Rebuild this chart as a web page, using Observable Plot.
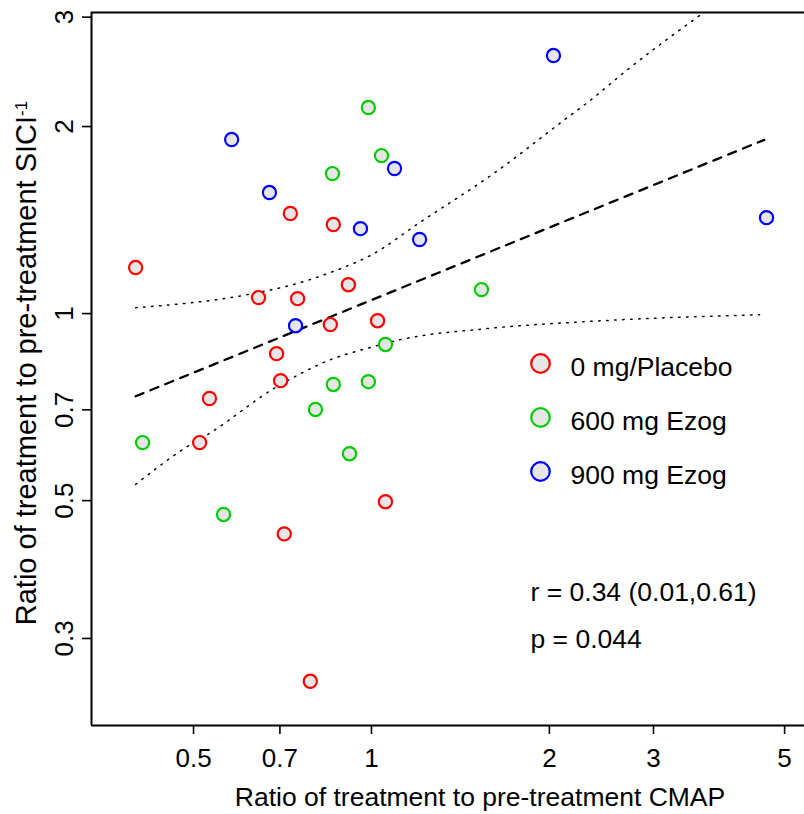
<!DOCTYPE html>
<html><head><meta charset="utf-8">
<script src="https://cdn.jsdelivr.net/npm/d3@7"></script>
<script src="https://cdn.jsdelivr.net/npm/@observablehq/plot@0.6"></script>
<style>
html,body{margin:0;padding:0;background:#fff;overflow:hidden}
#chart{width:804px;height:814px}
</style></head><body><div id="chart"></div>
<script>
// ---- data ----
const groups = ["0 mg/Placebo", "600 mg Ezog", "900 mg Ezog"];
const groupColors = ["#ff0000", "#00cd00", "#0000ff"];

const placeboX = [0.399, 0.729, 0.862, 0.644, 0.750, 0.914, 0.852, 1.024, 0.691, 0.702, 0.532, 0.512, 1.056, 0.712, 0.788];
const placeboY = [1.186, 1.449, 1.391, 1.061, 1.057, 1.113, 0.960, 0.974, 0.862, 0.780, 0.730, 0.620, 0.498, 0.442, 0.256];
const ezog600X = [0.988, 1.040, 0.859, 1.535, 1.056, 0.862, 0.988, 0.804, 0.410, 0.918, 0.562];
const ezog600Y = [2.146, 1.796, 1.680, 1.093, 0.892, 0.769, 0.777, 0.701, 0.620, 0.595, 0.475];
const ezog900X = [2.032, 0.580, 0.672, 1.094, 0.958, 1.206, 0.744, 4.660];
const ezog900Y = [2.602, 1.906, 1.566, 1.712, 1.370, 1.316, 0.956, 1.427];

const fitX = [0.399, 4.62];
const fitY = [0.736, 1.904];
const upperX = [0.399, 0.617, 0.758, 0.886, 0.996, 1.206, 1.609, 2.146, 2.320, 2.712, 3.589];
const upperY = [1.022, 1.073, 1.122, 1.181, 1.240, 1.401, 1.680, 2.068, 2.186, 2.470, 3.017];
const lowerX = [0.399, 0.488, 0.534, 0.683, 0.758, 0.829, 0.996, 1.120, 1.571, 2.320, 4.535];
const lowerY = [0.531, 0.611, 0.643, 0.757, 0.800, 0.834, 0.882, 0.908, 0.946, 0.971, 0.996];

const xTicks = [0.5, 0.7, 1, 2, 3, 5];
const yTicks = [0.3, 0.5, 0.7, 1, 2, 3];
const xDomain = [0.336, 5.403];
const yDomain = [0.2173, 3.052];

const xTitle = "Ratio of treatment to pre-treatment CMAP";
const yTitle = "Ratio of treatment to pre-treatment SICI";
const ySup = "-1";
const statsLines = ["r = 0.34 (0.01,0.61)", "p = 0.044"];

// ---- build tables ----
const seriesX = [placeboX, ezog600X, ezog900X];
const seriesY = [placeboY, ezog600Y, ezog900Y];
const points = [];
groups.forEach((g, i) => seriesX[i].forEach((x, j) => points.push({group: g, x, y: seriesY[i][j]})));
const zip = (X, Y) => X.map((x, i) => ({x, y: Y[i]}));
const fit = zip(fitX, fitY), upper = zip(upperX, upperY), lower = zip(lowerX, lowerY);

const font = "'Liberation Sans', Arial, Helvetica, sans-serif";

const legendMarks = groups.flatMap((g, i) => [
  Plot.dot([g], {frameAnchor: "top-left", dx: 449, dy: 351 + i * 54, r: 9.3, stroke: groupColors[i], strokeWidth: 2.2, fill: "#e6e6e6"}),
  Plot.text([g], {frameAnchor: "top-left", dx: 479, dy: 363 + i * 54, textAnchor: "start", lineAnchor: "bottom", fontSize: 26.5, fill: "#000"})
]);
const statMarks = statsLines.map((s, i) =>
  Plot.text([s], {frameAnchor: "top-left", dx: 439, dy: 588 + i * 47, textAnchor: "start", lineAnchor: "bottom", fontSize: 26.5, fill: "#000"})
);

const plot = Plot.plot({
  width: 804, height: 814,
  marginLeft: 91, marginRight: 0, marginTop: 12, marginBottom: 89,
  style: {fontFamily: font, background: "#fff", color: "#000"},
  x: {type: "log", domain: xDomain, label: null},
  y: {type: "log", domain: yDomain, label: null},
  color: {domain: groups, range: groupColors},
  marks: [
    Plot.line(upper, {x: "x", y: "y", curve: "monotone-x", stroke: "#000", strokeWidth: 1.5, strokeDasharray: "1.5,6.5", clip: true}),
    Plot.line(lower, {x: "x", y: "y", curve: "monotone-x", stroke: "#000", strokeWidth: 1.5, strokeDasharray: "1.5,6.5", clip: true}),
    Plot.line(fit, {x: "x", y: "y", stroke: "#000", strokeWidth: 2.3, strokeDasharray: "8.5,7.5", clip: true}),
    Plot.dot(points, {x: "x", y: "y", stroke: "group", fill: "#e6e6e6", r: 6.6, strokeWidth: 2.2}),
    Plot.ruleX([xDomain[0]], {stroke: "#000", strokeWidth: 2}),
    Plot.ruleY(yDomain, {stroke: "#000", strokeWidth: 2}),
    Plot.axisX(xTicks, {tickSize: 9, strokeWidth: 1.6, tickFormat: () => "", label: null}),
    Plot.axisY(yTicks, {tickSize: 9, strokeWidth: 1.6, tickFormat: () => "", label: null}),
    Plot.text(xTicks, {x: d => d, frameAnchor: "bottom", dy: 41, lineAnchor: "bottom", fontSize: 26, fill: "#000"}),
    Plot.text(yTicks, {y: d => d, frameAnchor: "left", dx: -19, rotate: -90, textAnchor: "middle", lineAnchor: "bottom", fontSize: 26, fill: "#000"}),
    Plot.text([xTitle], {frameAnchor: "bottom", dx: 32, dy: 80, lineAnchor: "bottom", fontSize: 26.5, fill: "#000"}),
    Plot.text([yTitle], {frameAnchor: "left", dx: -56, dy: -6, rotate: -90, textAnchor: "middle", lineAnchor: "bottom", fontSize: 29, fill: "#000"}),
    ...legendMarks,
    ...statMarks
  ]
});

// superscript on y title
d3.select(plot).selectAll("text").filter(function() { return this.textContent === yTitle; })
  .append("tspan").attr("dy", "-0.5em").attr("font-size", 17).text(ySup);

document.getElementById("chart").appendChild(plot);
</script></body></html>
